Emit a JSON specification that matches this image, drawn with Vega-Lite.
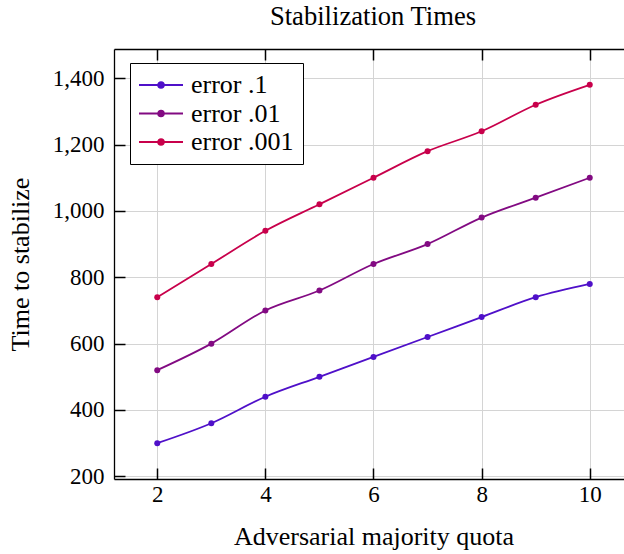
{
  "$schema": "https://vega.github.io/schema/vega-lite/v6.json",
  "autosize": "none",
  "padding": {"left": 114, "top": 49, "right": 0, "bottom": 75},
  "width": 510,
  "height": 430,
  "background": "white",
  "title": {
    "text": "Stabilization Times",
    "font": "Liberation Serif",
    "fontSize": 26.6,
    "fontWeight": "normal",
    "color": "black",
    "anchor": "middle",
    "frame": "group",
    "baseline": "alphabetic",
    "offset": -3,
    "dx": 4
  },
  "config": {
    "view": {"stroke": null},
    "axis": {
      "labelFont": "Liberation Serif",
      "labelFontSize": 23,
      "labelColor": "black",
      "titleFont": "Liberation Serif",
      "titleFontSize": 26,
      "titleFontWeight": "normal",
      "titleColor": "black",
      "domainColor": "black",
      "domainWidth": 1.3,
      "tickColor": "black",
      "tickWidth": 1.5,
      "tickSize": -11,
      "gridColor": "#d4d4d4",
      "gridWidth": 1,
      "gridOpacity": 1
    },
    "legend": {
      "labelFont": "Liberation Serif",
      "labelFontSize": 26,
      "labelColor": "black"
    }
  },
  "data": {
    "values": [
      {"q": 2, "series": "error .1", "time": 300},
      {"q": 3, "series": "error .1", "time": 360},
      {"q": 4, "series": "error .1", "time": 440},
      {"q": 5, "series": "error .1", "time": 500},
      {"q": 6, "series": "error .1", "time": 560},
      {"q": 7, "series": "error .1", "time": 620},
      {"q": 8, "series": "error .1", "time": 680},
      {"q": 9, "series": "error .1", "time": 740},
      {"q": 10, "series": "error .1", "time": 780},
      {"q": 2, "series": "error .01", "time": 520},
      {"q": 3, "series": "error .01", "time": 600},
      {"q": 4, "series": "error .01", "time": 700},
      {"q": 5, "series": "error .01", "time": 760},
      {"q": 6, "series": "error .01", "time": 840},
      {"q": 7, "series": "error .01", "time": 900},
      {"q": 8, "series": "error .01", "time": 980},
      {"q": 9, "series": "error .01", "time": 1040},
      {"q": 10, "series": "error .01", "time": 1100},
      {"q": 2, "series": "error .001", "time": 740},
      {"q": 3, "series": "error .001", "time": 840},
      {"q": 4, "series": "error .001", "time": 940},
      {"q": 5, "series": "error .001", "time": 1020},
      {"q": 6, "series": "error .001", "time": 1100},
      {"q": 7, "series": "error .001", "time": 1180},
      {"q": 8, "series": "error .001", "time": 1240},
      {"q": 9, "series": "error .001", "time": 1320},
      {"q": 10, "series": "error .001", "time": 1380}
    ]
  },
  "layer": [
    {
      "mark": {"type": "line", "interpolate": "monotone", "strokeWidth": 1.8},
      "encoding": {
        "x": {
          "field": "q", "type": "quantitative",
          "scale": {"domain": [1.2, 10.8], "range": [0, 519], "nice": false, "zero": false},
          "axis": {"orient": "bottom", "values": [2, 4, 6, 8, 10], "grid": true, "labelPadding": 15, "title": "Adversarial majority quota", "titlePadding": 17}
        },
        "y": {
          "field": "time", "type": "quantitative",
          "scale": {"domain": [192, 1488], "nice": false, "zero": false},
          "axis": {"orient": "left", "values": [200, 400, 600, 800, 1000, 1200, 1400], "format": ",d", "grid": true, "labelPadding": 21, "title": "Time to stabilize", "titlePadding": 19}
        },
        "color": {
          "field": "series", "type": "nominal",
          "scale": {"domain": ["error .1", "error .01", "error .001"], "range": ["#4f10c9", "#820a82", "#c8004b"]},
          "legend": {
            "orient": "none", "legendX": 16, "legendY": 14, "title": null,
            "fillColor": "white", "strokeColor": "black", "padding": 9, "cornerRadius": 0,
            "symbolType": "M-1.1818,0H2.8182M0.5582,0A0.26,0.26,0,1,0,1.0782,0A0.26,0.26,0,1,0,0.5582,0",
            "symbolSize": 484, "symbolStrokeWidth": 1.8, "labelOffset": 26, "rowPadding": 2.5
          }
        }
      }
    },
    {
      "mark": {"type": "point", "filled": true, "size": 36, "opacity": 1},
      "encoding": {
        "x": {
          "field": "q", "type": "quantitative",
          "axis": {"orient": "top", "values": [2, 4, 6, 8, 10], "labels": false, "grid": false, "title": null}
        },
        "y": {"field": "time", "type": "quantitative", "axis": null},
        "color": {"field": "series", "type": "nominal"}
      }
    }
  ],
  "resolve": {"axis": {"x": "independent", "y": "independent"}}
}
